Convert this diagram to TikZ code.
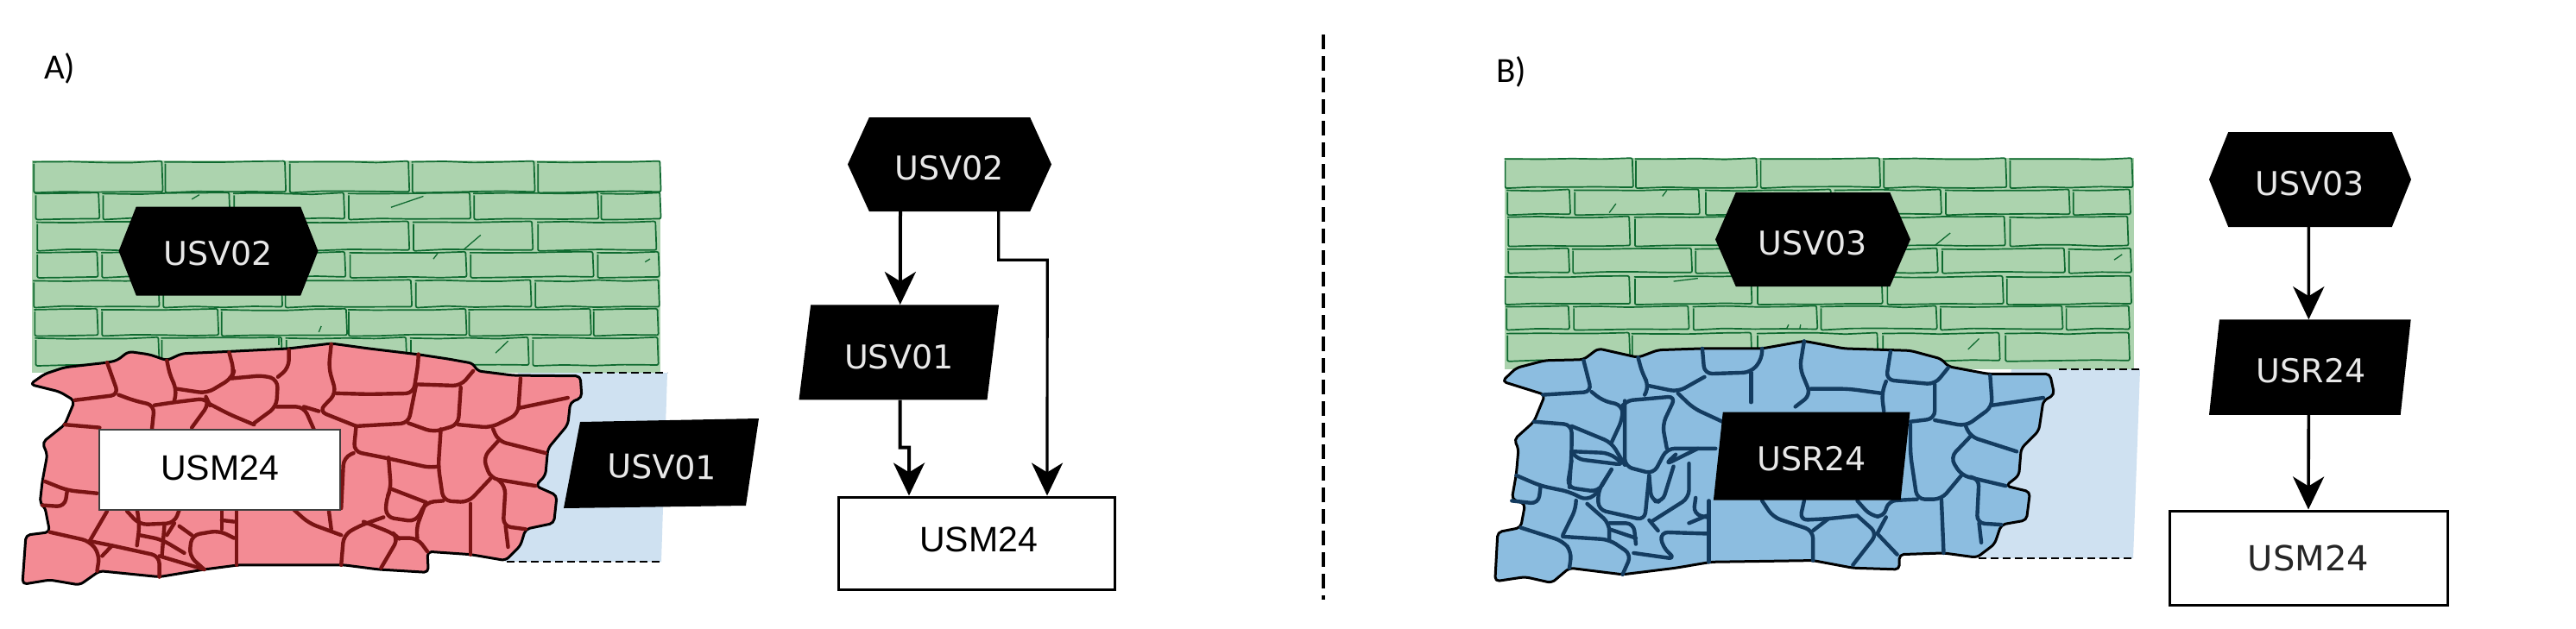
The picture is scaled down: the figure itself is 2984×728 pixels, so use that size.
\documentclass[tikz,border=0pt]{standalone}
\usepackage{fontspec}
\setmainfont{DejaVu Sans}
\newfontfamily\arialf{Liberation Sans}
\newfontfamily\calif{Carlito}
\usetikzlibrary{arrows.meta,shapes.geometric,shapes.symbols,decorations.pathmorphing}
\definecolor{wallgreen}{HTML}{ACD3AE}
\definecolor{brickline}{HTML}{0F6A30}
\definecolor{rockred}{HTML}{F38B94}
\definecolor{crackred}{HTML}{7A1414}
\definecolor{rockblue}{HTML}{8CBDE0}
\definecolor{crackblue}{HTML}{143C60}
\definecolor{paleblue}{HTML}{CFE1F1}
\definecolor{softwhite}{HTML}{E8E8E8}
\tikzset{
  brick/.style={draw=brickline,line width=1.7pt,rounded corners=2pt,decorate,decoration={random steps,segment length=34pt,amplitude=0.9pt}},
  scratch/.style={draw=brickline,line width=1.3pt},
  rockA/.style={fill=rockred,draw=black,line width=3pt,rounded corners=5pt,line join=round},
  rockB/.style={fill=rockblue,draw=black,line width=3pt,rounded corners=5pt,line join=round},
  crackA/.style={draw=crackred,line width=4.4pt,rounded corners=9pt,line join=round,line cap=round},
  crackB/.style={draw=crackblue,line width=4.4pt,rounded corners=9pt,line join=round,line cap=round},
  limit/.style={draw=black,line width=2.6pt,dash pattern=on 9pt off 5pt},
  hexnode/.style={shape=signal,signal to=west and east,signal from=nowhere,fill=black,text=softwhite,inner sep=0pt,font=\fontsize{38pt}{38pt}\selectfont},
  paranode/.style={shape=trapezium,trapezium stretches=true,fill=black,text=softwhite,inner sep=0pt,font=\fontsize{38pt}{38pt}\selectfont},
  boxnode/.style={draw=black,line width=3pt,fill=white,inner sep=0pt},
  flow/.style={draw=black,line width=4pt,line join=miter,-{Stealth[length=38pt,width=36pt,inset=11pt]}},
  panellabel/.style={inner sep=0pt,anchor=west,font=\calif\fontsize{41pt}{41pt}\selectfont},
}
\newcommand{\brickrow}[3]{\foreach \a/\b in {#3} \path[brick] (\a,#1) rectangle (\b,#2);}
\newcommand{\lowered}[2]{\raisebox{\dimexpr#1-0.365em\relax}[0.5em][0.5em]{#2}}
\begin{document}
\begin{tikzpicture}[x=1pt,y=-1pt]
\pgfmathsetseed{7}
\useasboundingbox (0,0) rectangle (2984,728);
\fill[white] (0,0) rectangle (2984,728);

% ---------- Panel A, wall and rock ----------
\fill[wallgreen] (37,186) rectangle (765,432);
\fill[paleblue] (600,432) -- (773,432) -- (766,651) -- (585,651) -- cycle;
\coordinate (a1) at (675,432); \coordinate (a2) at (773,432);
\coordinate (a3) at (587,651); \coordinate (a4) at (766,651);
\draw[limit] (a1) -- (a2);
\draw[limit] (a3) -- (a4);
\begin{scope}[shift={(0,160)},x=0.577pt,y=-0.346pt]
\brickrow{80}{180}{68/325,332/572,582/820,828/1072,1080/1325}
\brickrow{186}{270}{72/198,207/460,470/690,700/943,952/1200,1207/1325}
\brickrow{282}{375}{75/322,332/570,580/820,830/1068,1080/1316}
\brickrow{384}{465}{75/195,205/447,457/692,703/935,945/1190,1200/1322}
\brickrow{478}{565}{68/318,328/565,573/825,835/1065,1075/1322}
\brickrow{575}{660}{70/195,205/437,445/695,700/935,942/1185,1192/1320}
\brickrow{670}{760}{72/318,325/565,575/815,825/1060,1070/1320}
\draw[scratch] (385,205)--(400,190); \draw[scratch] (785,232)--(850,195);
\draw[scratch] (930,375)--(965,325); \draw[scratch] (995,720)--(1020,680);
\draw[scratch] (870,405)--(878,388); \draw[scratch] (560,670)--(560,695);
\draw[scratch] (1295,415)--(1305,405); \draw[scratch] (640,650)--(645,630);

\draw[rockA] (60,825)--(90,790)--(130,768)--(215,752)--(235,745)--(258,715)--(300,725)--(335,745)--(365,722)--(460,715)--(580,705)--(665,688)--(740,705)--(840,725)--(900,740)--(950,755)--(958,780)--(1030,795)--(1165,797)--(1168,870)--(1145,885)--(1140,960)--(1100,1040)--(1095,1130)--(1075,1165)--(1118,1197)--(1112,1290)--(1055,1310)--(1045,1365)--(1015,1415)--(945,1395)--(858,1385)--(860,1455)--(760,1445)--(690,1430)--(480,1430)--(410,1445)--(320,1470)--(200,1450)--(160,1497)--(100,1480)--(45,1495)--(52,1330)--(100,1320)--(90,1235)--(80,1225)--(85,1150)--(95,1060)--(85,1020)--(130,960)--(150,880)--(120,850)--cycle;
\foreach \p in {
 {(215,752)--(238,860)--(150,878)},
 {(238,860)--(270,880)--(310,895)--(305,975)},
 {(310,895)--(350,885)--(415,872)--(420,890)--(385,970)},
 {(335,745)--(342,800)--(355,840)--(350,880)},
 {(355,840)--(415,855)--(465,805)--(470,780)--(460,718)},
 {(465,805)--(530,795)--(558,810)--(555,900)--(510,955)},
 {(420,890)--(460,925)--(510,960)},
 {(558,800)--(580,770)--(580,710)},
 {(555,900)--(610,900)--(630,975)},
 {(610,900)--(640,915)},
 {(665,690)--(660,770)--(675,855)--(640,915)--(715,965)},
 {(675,855)--(740,858)--(830,855)--(840,750)--(840,727)},
 {(838,825)--(925,830)--(950,780)},
 {(835,830)--(820,955)--(715,965)},
 {(820,955)--(870,985)--(920,960)--(925,835)},
 {(920,960)--(985,970)--(1040,925)--(1045,805)},
 {(1040,905)--(1140,870)},
 {(990,975)--(1000,1015)--(1095,1055)},
 {(1000,1015)--(970,1070)--(985,1140)--(1075,1165)},
 {(885,975)--(880,1100)--(890,1215)--(940,1220)--(985,1140)},
 {(715,965)--(710,1050)--(785,1075)--(865,1105)--(880,1100)},
 {(710,1055)--(690,1070)--(685,1240)},
 {(780,1070)--(785,1175)--(775,1210)--(775,1270)--(835,1285)--(855,1220)--(890,1215)},
 {(785,1175)--(855,1220)},
 {(855,1220)--(835,1310)--(838,1340)},
 {(945,1225)--(945,1395)},
 {(1000,1145)--(1015,1165)--(1010,1300)--(1055,1310)},
 {(1015,1300)--(1020,1370)},
 {(770,1270)--(720,1300)--(690,1330)--(685,1430)},
 {(590,1245)--(620,1290)--(685,1330)},
 {(660,1245)--(665,1310)},
 {(730,1285)--(790,1325)--(800,1340)--(765,1440)},
 {(800,1340)--(838,1340)--(858,1385)},
 {(475,1245)--(475,1430)},
 {(470,1340)--(440,1315)--(385,1330)--(380,1400)--(410,1445)},
 {(130,960)--(200,970)},
 {(90,1150)--(135,1180)--(195,1190)},
 {(135,1180)--(130,1235)--(85,1230)},
 {(100,1320)--(180,1350)--(200,1395)--(195,1450)},
 {(180,1350)--(215,1250)},
 {(180,1350)--(225,1365)--(320,1400)--(320,1470)},
 {(225,1365)--(205,1400)},
 {(275,1240)--(280,1300)--(275,1365)},
 {(320,1400)--(410,1445)},
 {(255,1250)--(280,1295)--(350,1290)--(360,1245)},
 {(330,1300)--(325,1400)},
 {(280,1330)--(325,1345)--(370,1390)},
 {(350,1290)--(335,1330)},
 {(360,1300)--(385,1330)},
 {(445,1250)--(445,1310)},
 {(445,1280)--(470,1285)}}
 {\draw[crackA] \p;}
\end{scope}
\node[boxnode,draw=black!75,line width=2.5pt,minimum width=279pt,minimum height=93pt,font=\arialf\fontsize{41pt}{41pt}\selectfont] (boxrockA) at (254.5,544.5) {\lowered{2.5pt}{USM24}};
\node[hexnode,signal pointer angle=137,minimum width=231pt,minimum height=103pt] (hexrockA) at (253,291) {\lowered{-3pt}{USV02}};
\fill[black] (672,489) -- (879,485) -- (864,586) -- (653,589) -- cycle;
\node[text=softwhite,inner sep=0pt,rotate=-1,font=\fontsize{38pt}{38pt}\selectfont] (quadrockA) at (767,541) {USV01};

% ---------- Panel A, flow ----------
\node[hexnode,signal pointer angle=131,minimum width=236pt,minimum height=109pt] (hexA) at (1100,190.5) {\lowered{-4pt}{USV02}};
\node[paranode,trapezium left angle=77.5,trapezium right angle=102.5,minimum width=232pt,minimum height=110pt] (paraA) at (1041.3,408.3) {\lowered{-5pt}{USV01}};
\node[boxnode,minimum width=320pt,minimum height=107pt,font=\arialf\fontsize{41pt}{41pt}\selectfont] (boxA) at (1131.7,629.5) {\lowered{4.5pt}{\hspace*{4pt}USM24}};
\draw[flow] ([xshift=-57pt]hexA.south) -- ([xshift=1.4pt]paraA.north);
\draw[flow] ([xshift=1.4pt]paraA.south) -- ++(0,55) -- ++(10.3,0) -- ([xshift=-78.7pt]boxA.north);
\draw[flow,line width=3.2pt] ([xshift=56.7pt]hexA.south) -- ++(0,56) -- ++(56.5,0) -- ([xshift=81.3pt]boxA.north);

% ---------- Divider and labels ----------
\coordinate (divtop) at (1533,40); \coordinate (divbot) at (1533,695);
\draw[black,line width=4.5pt,dash pattern=on 17pt off 8pt] (divtop) -- (divbot);
\node[panellabel] (labA) at (51,79) {A)};
\node[panellabel] (labB) at (1733,83) {B)};

% ---------- Panel B, wall and rock ----------
\fill[wallgreen] (1743,183) rectangle (2472,428);
\fill[paleblue] (2330,428) -- (2479,428) -- (2471,647) -- (2292,647) -- cycle;
\coordinate (b1) at (2385,428); \coordinate (b2) at (2479,428);
\coordinate (b3) at (2292,647); \coordinate (b4) at (2471,647);
\draw[limit] (b1) -- (b2);
\draw[limit] (b3) -- (b4);
\begin{scope}[shift={(1700,160)},x=0.513pt,y=-0.346pt]
\brickrow{70}{165}{85/372,380/652,662/930,940/1215,1225/1500}
\brickrow{175}{255}{90/230,242/522,538/820,830/1068,1080/1358,1368/1495}
\brickrow{265}{360}{92/365,378/640,650/910,920/1212,1225/1490}
\brickrow{372}{450}{92/228,238/505,515/790,800/1060,1072/1347,1358/1497}
\brickrow{465}{555}{85/365,378/640,655/935,948/1208,1218/1497}
\brickrow{565}{640}{88/228,240/498,510/788,798/1058,1068/1342,1352/1493}
\brickrow{655}{745}{90/365,372/640,655/925,938/1200,1215/1493}
\draw[scratch] (320,250)--(335,220); \draw[scratch] (1055,360)--(1090,318);
\draw[scratch] (1130,708)--(1155,672); \draw[scratch] (465,480)--(520,470);
\draw[scratch] (1460,408)--(1478,390); \draw[scratch] (720,640)--(725,625);
\draw[scratch] (750,640)--(752,625); \draw[scratch] (440,195)--(450,175);

\draw[rockB] (78,815)--(110,770)--(175,745)--(262,742)--(295,705)--(385,735)--(430,710)--(530,705)--(665,705)--(760,680)--(850,705)--(1000,712)--(1070,740)--(1085,765)--(1175,790)--(1315,790)--(1325,860)--(1300,880)--(1290,980)--(1250,1040)--(1245,1130)--(1215,1165)--(1270,1185)--(1262,1280)--(1205,1295)--(1190,1360)--(1150,1405)--(1075,1390)--(975,1395)--(975,1445)--(870,1440)--(780,1415)--(550,1420)--(470,1440)--(350,1462)--(230,1440)--(190,1490)--(130,1470)--(62,1485)--(68,1320)--(120,1305)--(130,1225)--(100,1210)--(110,1125)--(115,1040)--(105,1010)--(150,950)--(175,860)--cycle;
\foreach \p in {
 {(262,745)--(280,850)--(170,860)},
 {(280,850)--(305,880)--(350,895)--(350,940)--(325,1020)},
 {(350,895)--(355,880)--(470,865)--(440,960)--(450,1040)},
 {(385,735)--(395,790)--(410,830)--(400,860)},
 {(410,830)--(475,850)--(535,800)},
 {(530,705)--(535,790)--(640,785)--(665,740)--(665,705)},
 {(475,855)--(510,905)--(590,960)},
 {(640,785)--(640,885)},
 {(760,680)--(750,770)--(775,860)--(740,900)},
 {(775,840)--(860,840)--(935,855)},
 {(955,715)--(945,810)--(1055,825)--(1085,770)},
 {(945,815)--(935,855)--(940,915)},
 {(1055,825)--(1055,940)--(1000,950)},
 {(1055,945)--(1125,965)--(1185,900)--(1180,795)},
 {(1185,895)--(1300,870)},
 {(1125,965)--(1135,1000)--(1240,1050)},
 {(1135,1000)--(1090,1070)--(1115,1130)--(1215,1165)},
 {(1000,960)--(1000,1060)--(1015,1210)--(1070,1210)--(1115,1130)},
 {(1070,1210)--(1075,1390)},
 {(1135,1135)--(1155,1140)--(1150,1290)--(1205,1295)},
 {(1155,1290)--(1160,1355)},
 {(1015,1210)--(950,1215)--(940,1270)--(910,1265)--(880,1215)},
 {(760,1215)--(750,1280)--(815,1275)--(880,1265)},
 {(665,1215)--(690,1270)--(780,1315)--(780,1415)},
 {(815,1275)--(780,1315)},
 {(880,1265)--(925,1325)--(870,1430)},
 {(925,1325)--(970,1395)},
 {(945,1270)--(925,1325)},
 {(545,1215)--(545,1420)},
 {(515,1205)--(510,1260)--(540,1270)},
 {(150,950)--(235,960)--(235,1050)--(230,1170)},
 {(235,965)--(325,1020)--(355,1095)},
 {(240,1050)--(320,1055)--(355,1095)--(245,1075)--(235,1050)},
 {(235,1080)--(225,1170)--(295,1185)--(325,1110)},
 {(355,880)--(355,1100)--(420,1125)--(450,1040)--(560,1040)},
 {(470,1060)--(445,1095)--(520,1040)},
 {(110,1130)--(165,1165)--(230,1185)--(270,1215)--(295,1185)},
 {(165,1165)--(160,1225)--(100,1215)},
 {(325,1110)--(295,1180)--(295,1245)--(400,1280)--(410,1130)},
 {(410,1130)--(415,1215)--(440,1220)--(465,1100)},
 {(500,1090)--(500,1205)--(415,1285)},
 {(245,1215)--(245,1240)--(215,1330)},
 {(120,1305)--(215,1350)--(235,1385)--(230,1440)},
 {(215,1335)--(320,1345)--(370,1395)--(350,1462)},
 {(270,1225)--(320,1290)--(320,1345)},
 {(320,1290)--(375,1290)--(380,1360)},
 {(320,1310)--(380,1340)},
 {(375,1390)--(470,1410)--(440,1370)--(435,1320)--(540,1325)},
 {(410,1280)--(430,1315)},
 {(500,1290)--(540,1265)}}
 {\draw[crackB] \p;}
\end{scope}
\node[hexnode,signal pointer angle=133,minimum width=226pt,minimum height=109pt] (hexrockB) at (2100,277.5) {\lowered{-4.5pt}{USV03}};
\node[paranode,trapezium left angle=80,trapezium right angle=100,minimum width=228pt,minimum height=102pt] (pararockB) at (2098.7,528.5) {\lowered{-3.5pt}{USR24}};

% ---------- Panel B, flow ----------
\node[hexnode,signal pointer angle=136,minimum width=234pt,minimum height=110pt] (hexB) at (2676,208) {\lowered{-5pt}{USV03}};
\node[paranode,trapezium left angle=79,trapezium right angle=101,minimum width=234pt,minimum height=110.5pt] (paraB) at (2675.8,425.7) {\lowered{-4pt}{\hspace*{3pt}USR24}};
\node[boxnode,minimum width=322pt,minimum height=109pt,font=\fontsize{40pt}{40pt}\selectfont,text=black!85] (boxB) at (2674,646.5) {USM24};
\draw[flow,line width=3.6pt] ([xshift=-1.7pt]hexB.south) -- ([xshift=-1.5pt]paraB.north);
\draw[flow,line width=3.6pt] ([xshift=-1.5pt]paraB.south) -- (boxB.north);
\end{tikzpicture}
\end{document}
